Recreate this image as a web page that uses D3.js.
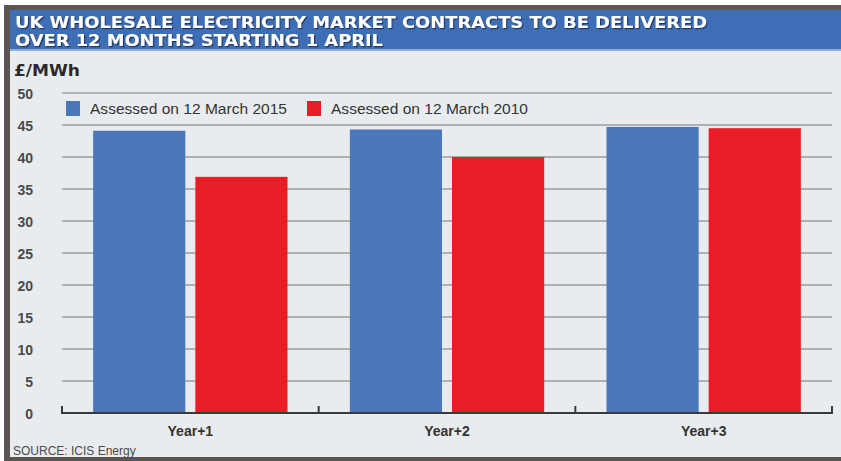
<!DOCTYPE html>
<html>
<head>
<meta charset="utf-8">
<script src="https://cdn.jsdelivr.net/npm/d3@7"></script>
<style>
  html, body { margin: 0; padding: 0; background: #ffffff; }
  svg { display: block; }
</style>
</head>
<body>
<svg id="chart" width="841" height="461"></svg>
<script>
// Wholesale electricity contract prices, £/MWh
const categories = ["Year+1", "Year+2", "Year+3"];
const seriesNames = ["Assessed on 12 March 2015", "Assessed on 12 March 2010"];
const values2015 = [44.1, 44.3, 44.7];
const values2010 = [36.9, 40.0, 44.5];
const yTicks = [0, 5, 10, 15, 20, 25, 30, 35, 40, 45, 50];
const titleLines = ["UK WHOLESALE ELECTRICITY MARKET CONTRACTS TO BE DELIVERED",
                    "OVER 12 MONTHS STARTING 1 APRIL"];
const unitLabel = "£/MWh";
const sourceText = "SOURCE: ICIS Energy";

const colors = ["#4a76ba", "#e81d25"];
const W = 841, H = 461;
const svg = d3.select("#chart");

// Drop shadow for the title lettering
const defs = svg.append("defs");
defs.append("filter").attr("id", "titleShadow")
  .attr("x", "-5%").attr("y", "-30%").attr("width", "110%").attr("height", "160%")
  .append("feDropShadow")
  .attr("dx", 1.2).attr("dy", 1.2).attr("stdDeviation", 0.5)
  .attr("flood-color", "#1d2f55").attr("flood-opacity", 0.9);

// Frame and panel
svg.append("rect").attr("x", 4).attr("y", 5).attr("width", W - 4).attr("height", H - 5).attr("fill", "#5b5553");
svg.append("rect").attr("x", 10).attr("y", 10).attr("width", W - 10).attr("height", 447).attr("fill", "#e9ecef");
svg.append("rect").attr("x", 10).attr("y", 10).attr("width", W - 10).attr("height", 40).attr("fill", "#3e6fb6");
svg.append("rect").attr("x", 10).attr("y", 49).attr("width", W - 10).attr("height", 2).attr("fill", "#8fb0db");

// Two-line title
const titleWidths = [692, 368];
titleLines.forEach((t, i) => {
  svg.append("text")
    .attr("x", 15).attr("y", 28 + i * 18)
    .attr("font-family", "'DejaVu Sans', sans-serif")
    .attr("font-weight", "bold")
    .attr("font-size", 15)
    .attr("textLength", titleWidths[i])
    .attr("lengthAdjust", "spacingAndGlyphs")
    .attr("fill", "#ffffff")
    .attr("filter", "url(#titleShadow)")
    .text(t);
});

// Unit label
svg.append("text")
  .attr("x", 14).attr("y", 76)
  .attr("font-family", "'DejaVu Sans', sans-serif")
  .attr("font-weight", "bold")
  .attr("font-size", 16)
  .attr("textLength", 66)
  .attr("lengthAdjust", "spacingAndGlyphs")
  .attr("fill", "#2a2a2a")
  .text(unitLabel);

// Scales
const plotLeft = 62, plotRight = 832;
const y = d3.scaleLinear().domain([0, 50]).range([413, 93]);
const x0 = d3.scaleBand().domain(categories).range([plotLeft, plotRight]).padding(0);
const x1 = d3.scaleBand().domain(seriesNames).range([0, x0.bandwidth()])
  .paddingInner(0.098).paddingOuter(0.305);

// Gridlines
svg.append("g")
  .selectAll("line")
  .data(yTicks.filter(d => d > 0))
  .join("line")
  .attr("x1", plotLeft).attr("x2", plotRight)
  .attr("y1", d => y(d)).attr("y2", d => y(d))
  .attr("stroke", d => d === 50 ? "#b3b6b8" : "#9a9c9e")
  .attr("stroke-width", d => d === 50 ? 2.2 : 1.5);

// Y tick labels
const yAxis = d3.axisLeft(y).tickValues(yTicks).tickSize(0).tickPadding(0);
const gy = svg.append("g").attr("transform", "translate(33,0)").call(yAxis);
gy.select(".domain").remove();
gy.selectAll("text")
  .attr("font-family", "'Liberation Sans', Arial, sans-serif")
  .attr("font-weight", "bold")
  .attr("font-size", 14)
  .attr("fill", "#4a4a4a")
  .attr("dy", "0.38em");

// Bars
const data = categories.map((c, i) => ({ cat: c, vals: [values2015[i], values2010[i]] }));
const groups = svg.append("g").selectAll("g")
  .data(data).join("g")
  .attr("transform", d => `translate(${x0(d.cat)},0)`);
groups.selectAll("rect")
  .data(d => d.vals.map((v, k) => ({ name: seriesNames[k], v, k })))
  .join("rect")
  .attr("x", d => x1(d.name))
  .attr("width", x1.bandwidth())
  .attr("y", d => y(d.v))
  .attr("height", d => y(0) - y(d.v))
  .attr("fill", d => colors[d.k]);

// X axis baseline with upward boundary ticks
const xAxis = d3.axisBottom(x0).tickSize(0).tickPadding(13);
const gx = svg.append("g").attr("transform", `translate(0,${y(0)})`).call(xAxis);
gx.select(".domain").remove();
gx.selectAll("text")
  .attr("font-family", "'Liberation Sans', Arial, sans-serif")
  .attr("font-weight", "bold")
  .attr("font-size", 14)
  .attr("fill", "#333")
  .attr("dy", "0.71em");
svg.append("line")
  .attr("x1", plotLeft).attr("x2", plotRight)
  .attr("y1", y(0)).attr("y2", y(0))
  .attr("stroke", "#3a3a3a").attr("stroke-width", 2);
const boundaries = categories.map(c => x0(c)).concat([x0(categories[categories.length - 1]) + x0.bandwidth()]);
svg.append("g").selectAll("line")
  .data(boundaries).join("line")
  .attr("x1", d => d).attr("x2", d => d)
  .attr("y1", y(0) + 1).attr("y2", y(0) - 7)
  .attr("stroke", "#3a3a3a").attr("stroke-width", 2);

// Legend
const legendX = [66, 307];
seriesNames.forEach((name, k) => {
  svg.append("rect")
    .attr("x", legendX[k]).attr("y", 101)
    .attr("width", 14).attr("height", 15)
    .attr("fill", colors[k]);
  svg.append("text")
    .attr("x", legendX[k] + 24).attr("y", 114)
    .attr("font-family", "'Liberation Sans', Arial, sans-serif")
    .attr("font-size", 14)
    .attr("textLength", 197)
    .attr("lengthAdjust", "spacingAndGlyphs")
    .attr("fill", "#333")
    .text(name);
});

// Source note
svg.append("text")
  .attr("x", 13).attr("y", 455)
  .attr("font-family", "'Liberation Sans Narrow', 'Liberation Sans', Arial, sans-serif")
  .attr("font-size", 12)
  .attr("fill", "#4a4a4a")
  .text(sourceText);
</script>
</body>
</html>
